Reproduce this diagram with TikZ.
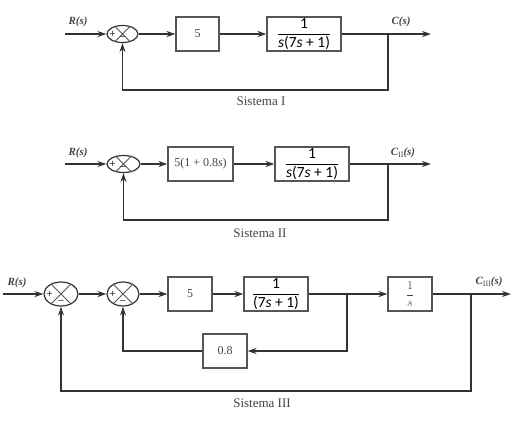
\documentclass[tikz,border=0pt]{standalone}
\usepackage{fontspec}
\setmainfont{Liberation Serif}
\newfontfamily\carl{Carlito}
\usetikzlibrary{shapes.geometric,arrows.meta}
\definecolor{ln}{HTML}{333333}
\definecolor{bx}{HTML}{555555}
\definecolor{tx}{HTML}{444444}
\newcommand\sumx[1]{%
  \draw[bx, line width=0.8pt] (#1.45) -- (#1.225) (#1.135) -- (#1.-45);
  \node[sgn] at ([xshift=6pt]#1.west) {+};
  \node[sgn] at ([yshift=4.5pt]#1.south) {\textminus};}
\newcommand\tf[1]{$\displaystyle\frac{\hbox{\carl 1}}{\hbox{\carl #1}}$}
\newcommand\ii{\itshape s\upshape}
\begin{document}
\begin{tikzpicture}[x=1pt,y=-1pt,
  blk/.style={draw=bx, line width=1.1pt, minimum height=34pt, inner sep=0pt,
              font=\fontsize{12}{14}\selectfont, text=tx},
  sumj/.style={draw=ln, ellipse, line width=1.2pt, inner sep=0pt},
  sgn/.style={font=\fontsize{11}{12}\selectfont\bfseries, text=ln, inner sep=0pt},
  sig/.style={draw=ln, line width=1.8pt},
  arr/.style={sig, -{Stealth[length=9pt,width=6pt]}},
  lab/.style={font=\fontsize{11}{13}\selectfont\bfseries\itshape, text=tx, inner sep=0pt},
  caption/.style={font=\fontsize{13}{15}\selectfont, text=tx, inner sep=0pt},
  frac/.style={font=\fontsize{15.5}{18}\selectfont, text=black}]
\useasboundingbox (0,0) rectangle (518,421);

% ---------------- Sistema I ----------------
\coordinate (in1) at (65,34);
\node[sumj, minimum width=31pt, minimum height=17pt] (s1) at (122.5,34) {};
\sumx{s1}
\node[blk, minimum width=43pt] (k1) at (197.5,34) {5};
\node[blk, minimum width=74pt, frac] (g1) at (304,34) {\tf{\ii(7\ii{} + 1)}};
\coordinate (br1) at (388,34);
\coordinate (fb1) at (388,90);
\coordinate (out1) at (431,34);
\node[lab] (r1) at (78,22) {R(s)};
\node[lab] (c1) at (401,22) {C(s)};
\node[caption] (t1) at (261,101) {Sistema I};
\draw[arr] (in1) -- (s1);
\draw[arr] (s1) -- (k1);
\draw[arr] (k1) -- (g1);
\draw[arr] (g1) -- (out1);
\draw[arr] (br1) -- (fb1) -| (s1.south);

% ---------------- Sistema II ----------------
\coordinate (in2) at (65,164);
\node[sumj, minimum width=33pt, minimum height=17pt] (s2) at (123.5,164) {};
\sumx{s2}
\node[blk, minimum width=65pt] (k2) at (200.5,164) {5(1 + 0.8\textit{s})};
\node[blk, minimum width=74pt, frac] (g2) at (312,164) {\tf{\ii(7\ii{} + 1)}};
\coordinate (br2) at (388,164);
\coordinate (fb2) at (388,220);
\coordinate (out2) at (431,164);
\node[lab] (r2) at (78,153) {R(s)};
\node[lab] (c2) at (403,153) {C\raisebox{-2pt}{\upshape\mdseries\fontsize{8}{9}\selectfont II}(s)};
\node[caption] (t2) at (260,233) {Sistema II};
\draw[arr] (in2) -- (s2);
\draw[arr] (s2) -- (k2);
\draw[arr] (k2) -- (g2);
\draw[arr] (g2) -- (out2);
\draw[arr] (br2) -- (fb2) -| (s2.south);

% ---------------- Sistema III ----------------
\coordinate (in3) at (3,294);
\node[sumj, minimum width=34pt, minimum height=24pt] (s31) at (61,294) {};
\sumx{s31}
\node[sumj, minimum width=32pt, minimum height=24pt] (s32) at (123,294) {};
\sumx{s32}
\node[blk, minimum width=44pt] (k3) at (190,294) {5};
\node[blk, minimum width=64pt, frac] (g3) at (276,294) {\tf{(7\ii{} + 1)}};
\node[blk, minimum width=44pt] (i3) at (410,294) {$\displaystyle\frac{1}{s}$};
\node[blk, minimum width=44pt] (h3) at (225,351) {0.8};
\coordinate (br3) at (347,294);
\coordinate (br4) at (471,294);
\coordinate (fb4) at (471,391);
\coordinate (out3) at (511,294);
\node[lab] (r3) at (17,283) {R(s)};
\node[lab] (c3) at (489,282) {C\raisebox{-2pt}{\upshape\mdseries\fontsize{8}{9}\selectfont III}(s)};
\node[caption] (t3) at (262,403) {Sistema III};
\draw[arr] (in3) -- (s31);
\draw[arr] (s31) -- (s32);
\draw[arr] (s32) -- (k3);
\draw[arr] (k3) -- (g3);
\draw[arr] (g3) -- (i3);
\draw[arr] (i3) -- (out3);
\draw[arr] (br3) |- (h3.east);
\draw[arr] (h3.west) -| (s32.south);
\draw[arr] (br4) -- (fb4) -| (s31.south);
\end{tikzpicture}
\end{document}
